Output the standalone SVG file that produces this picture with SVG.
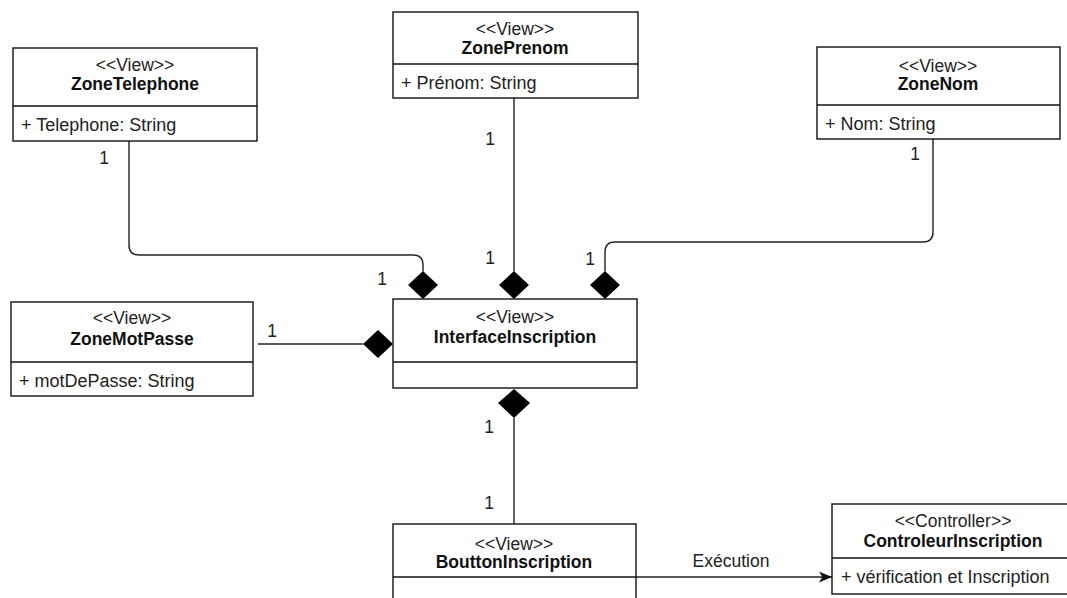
<svg xmlns="http://www.w3.org/2000/svg" width="1067" height="598" viewBox="0 0 1067 598">
  <defs>
    <marker id="arrow" viewBox="0 0 12 10" refX="12" refY="5" markerWidth="13" markerHeight="11" markerUnits="userSpaceOnUse" orient="auto">
      <path d="M0 0 L12 5 L0 10 L3 5 Z" fill="#111"/>
    </marker>
  </defs>
  <style>
    .box { fill: #fff; stroke: #111; stroke-width: 1.4; }
    .sep { stroke: #111; stroke-width: 1.4; }
    .st { font-family: "Liberation Sans", Arial, sans-serif; font-size: 17.5px; fill: #222; text-anchor: middle; }
    .nm { font-family: "Liberation Sans", Arial, sans-serif; font-size: 17.5px; font-weight: bold; fill: #111; text-anchor: middle; }
    .at { font-family: "Liberation Sans", Arial, sans-serif; font-size: 18px; fill: #222; }
    .lbl { font-family: "Liberation Sans", Arial, sans-serif; font-size: 17.5px; fill: #222; text-anchor: middle; }
    .wire { fill: none; stroke: #222; stroke-width: 1.4; }
    .dia { fill: #000; }
  </style>
  <rect width="1067" height="598" fill="#fff"/>

  <!-- connectors -->
  <g id="connectors">
    <path class="wire" d="M129 141 V245 Q129 255 139 255 H413 Q423 255 423 265 V271"/>
    <polygon class="dia" points="423,271 438,285 423,299 408,285"/>
    <text class="lbl" x="104" y="164">1</text>
    <text class="lbl" x="382" y="285">1</text>

    <path class="wire" d="M514 98 V271"/>
    <polygon class="dia" points="514,271 529,285 514,299 499,285"/>
    <text class="lbl" x="490" y="145">1</text>
    <text class="lbl" x="490" y="264">1</text>

    <path class="wire" d="M933 139 V232 Q933 242 923 242 H615 Q605 242 605 252 V271"/>
    <polygon class="dia" points="605,271 620,285 605,299 590,285"/>
    <text class="lbl" x="915" y="160">1</text>
    <text class="lbl" x="590" y="265">1</text>

    <path class="wire" d="M258 344 H363"/>
    <polygon class="dia" points="363,344 378,330 393,344 378,358"/>
    <text class="lbl" x="272" y="337">1</text>

    <path class="wire" d="M514 418 V524"/>
    <polygon class="dia" points="514,389 530,403 514,418 498,403"/>
    <text class="lbl" x="489" y="433">1</text>
    <text class="lbl" x="489" y="509">1</text>

    <path class="wire" d="M636 577 H832" marker-end="url(#arrow)"/>
    <text class="lbl" x="731" y="567">Exécution</text>
  </g>

  <!-- classes -->
  <g id="ZoneTelephone">
    <rect class="box" x="13" y="48" width="244" height="93"/>
    <line class="sep" x1="13" y1="106" x2="257" y2="106"/>
    <text class="st" x="135" y="71">&lt;&lt;View&gt;&gt;</text>
    <text class="nm" x="135" y="90">ZoneTelephone</text>
    <text class="at" x="21" y="131">+ Telephone: String</text>
  </g>

  <g id="ZonePrenom">
    <rect class="box" x="393" y="12" width="245" height="86"/>
    <line class="sep" x1="393" y1="64" x2="638" y2="64"/>
    <text class="st" x="515" y="35">&lt;&lt;View&gt;&gt;</text>
    <text class="nm" x="515" y="54">ZonePrenom</text>
    <text class="at" x="401" y="89">+ Prénom: String</text>
  </g>

  <g id="ZoneNom">
    <rect class="box" x="817" y="47" width="243" height="92"/>
    <line class="sep" x1="817" y1="105" x2="1060" y2="105"/>
    <text class="st" x="938" y="72">&lt;&lt;View&gt;&gt;</text>
    <text class="nm" x="938" y="90">ZoneNom</text>
    <text class="at" x="825" y="130">+ Nom: String</text>
  </g>

  <g id="ZoneMotPasse">
    <rect class="box" x="11" y="302" width="242" height="94"/>
    <line class="sep" x1="11" y1="362" x2="253" y2="362"/>
    <text class="st" x="132" y="324">&lt;&lt;View&gt;&gt;</text>
    <text class="nm" x="132" y="345">ZoneMotPasse</text>
    <text class="at" x="19" y="387">+ motDePasse: String</text>
  </g>

  <g id="InterfaceInscription">
    <rect class="box" x="393" y="299" width="244" height="89"/>
    <line class="sep" x1="393" y1="362" x2="637" y2="362"/>
    <text class="st" x="515" y="323">&lt;&lt;View&gt;&gt;</text>
    <text class="nm" x="515" y="343">InterfaceInscription</text>
  </g>

  <g id="BouttonInscription">
    <rect class="box" x="393" y="524" width="243" height="90"/>
    <line class="sep" x1="393" y1="577" x2="636" y2="577"/>
    <text class="st" x="514" y="550">&lt;&lt;View&gt;&gt;</text>
    <text class="nm" x="514" y="568">BouttonInscription</text>
  </g>

  <g id="ControleurInscription">
    <rect class="box" x="832" y="504" width="243" height="90"/>
    <line class="sep" x1="832" y1="558" x2="1075" y2="558"/>
    <text class="st" x="953" y="527">&lt;&lt;Controller&gt;&gt;</text>
    <text class="nm" x="953" y="547">ControleurInscription</text>
    <text class="at" x="841" y="583">+ vérification et Inscription</text>
  </g>
</svg>
